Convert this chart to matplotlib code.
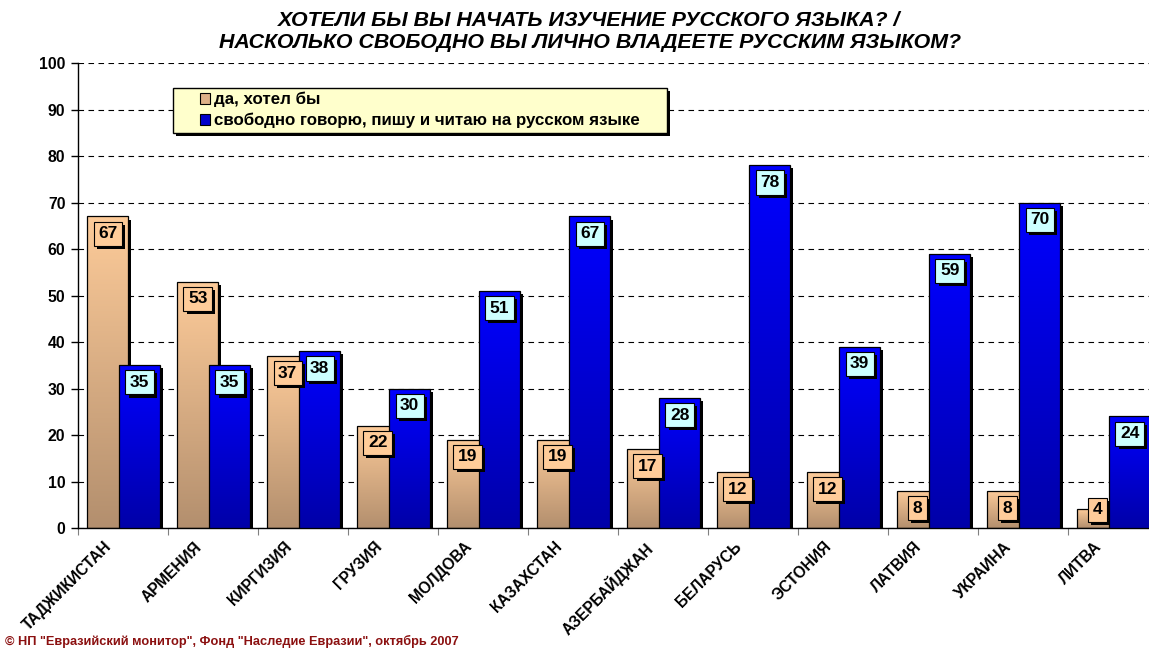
import numpy as np
import matplotlib
matplotlib.use('Agg')
import matplotlib.pyplot as plt
import matplotlib.patheffects as pe
from matplotlib.colors import LinearSegmentedColormap
from matplotlib.patches import Rectangle, Patch
from matplotlib.transforms import ScaledTranslation

plt.rcParams['font.family'] = ['Liberation Sans', 'DejaVu Sans']

# data
countries = ['ТАДЖИКИСТАН', 'АРМЕНИЯ', 'КИРГИЗИЯ', 'ГРУЗИЯ', 'МОЛДОВА', 'КАЗАХСТАН',
             'АЗЕРБАЙДЖАН', 'БЕЛАРУСЬ', 'ЭСТОНИЯ', 'ЛАТВИЯ', 'УКРАИНА', 'ЛИТВА']
want_learn = [67, 53, 37, 22, 19, 19, 17, 12, 12, 8, 8, 4]
fluent = [35, 35, 38, 30, 51, 67, 28, 78, 39, 59, 70, 24]
series_names = ['да, хотел бы', 'свободно говорю, пишу и читаю на русском языке']

title1 = 'ХОТЕЛИ БЫ ВЫ НАЧАТЬ ИЗУЧЕНИЕ РУССКОГО ЯЗЫКА? /'
title2 = 'НАСКОЛЬКО СВОБОДНО ВЫ ЛИЧНО ВЛАДЕЕТЕ РУССКИМ ЯЗЫКОМ?'
footer = '© НП "Евразийский монитор", Фонд "Наследие Евразии", октябрь 2007'

W, H = 1149, 648
fig = plt.figure(figsize=(W / 100, H / 100), dpi=100)
ax = fig.add_axes([78 / W, 120 / H, 1080 / W, 465 / H])

shadow = [pe.SimplePatchShadow(offset=(2.2, -2.2), shadow_rgbFace='black', alpha=1), pe.Normal()]


def gradient_bars(bars, c_top, c_bot, z):
    cmap = LinearSegmentedColormap.from_list('g', [c_bot, c_top])
    grad = np.linspace(0, 1, 128).reshape(-1, 1)
    for b in bars:
        b.set_zorder(z)
        b.set_path_effects(shadow)
        x0, bw, h = b.get_x(), b.get_width(), b.get_height()
        im = ax.imshow(grad, extent=[x0, x0 + bw, 0, h], origin='lower',
                       aspect='auto', cmap=cmap, zorder=z + 0.01)
        im.set_clip_path(b)
        ax.add_patch(Rectangle((x0, 0), bw, h, fill=False, ec='black', lw=0.9, zorder=z + 0.02))


def value_labels(xs, vals, fc):
    for xi, v in zip(xs, vals):
        t = ax.text(xi, max(v - 3.7, 3.9), str(v), ha='center', va='center',
                    fontsize=12.5, fontweight='bold', zorder=6,
                    bbox=dict(boxstyle='square,pad=0.26', fc=fc, ec='black', lw=0.8))
        t.get_bbox_patch().set_path_effects(shadow)


x = np.arange(len(countries))
w = 0.455
tan = ax.bar(x - 0.17, want_learn, w, color='#DDB088')
blue = ax.bar(x + 0.185, fluent, w, color='#0000CC')
gradient_bars(tan, '#FDCB99', '#B38F6E', 2)
gradient_bars(blue, '#0000FF', '#0000A8', 3)
value_labels(x - 0.17, want_learn, '#FFCC99')
value_labels(x + 0.185, fluent, '#CCFFFF')

ax.set_xlim(-0.5, len(countries) - 0.5)
ax.set_ylim(0, 100)
ax.set_yticks(range(0, 101, 10))
ax.yaxis.grid(True, linestyle=(0, (5, 4)), color='black', lw=0.8)
ax.set_axisbelow(True)
for s in ['top', 'right']:
    ax.spines[s].set_visible(False)
ax.spines['left'].set_linewidth(1)
ax.spines['bottom'].set_linewidth(1)
ax.tick_params(axis='y', length=5, width=1, pad=4, labelsize=11.3)
for lab in ax.get_yticklabels():
    lab.set_fontweight('bold')

ax.set_xticks(np.arange(len(countries) + 1) - 0.5)
ax.set_xticklabels([])
ax.tick_params(axis='x', which='major', length=5, color='gray')
ax.set_xticks(x, minor=True)
ax.set_xticklabels(countries, minor=True, rotation=45, ha='right', va='top',
                   rotation_mode='anchor', fontsize=11.2, fontweight='bold')
ax.tick_params(axis='x', which='minor', length=0, pad=8)
for lab in ax.get_xticklabels(minor=True):
    lab.set_transform(lab.get_transform() + ScaledTranslation(-0.19, 0, fig.dpi_scale_trans))

# legend box
frame = Rectangle((95 / 1080, 395 / 465), 494 / 1080, 45 / 465, transform=ax.transAxes,
                  fc='#FFFFCC', ec='black', lw=1, zorder=7)
frame.set_path_effects(shadow)
ax.add_patch(frame)
handles = [Patch(fc='#DDB088', ec='black', lw=0.8), Patch(fc='#0000CC', ec='black', lw=0.8)]
leg = ax.legend(handles, series_names, loc='upper left', bbox_to_anchor=(122 / 1080, 436 / 465),
                frameon=False, borderpad=0, borderaxespad=0, handlelength=0.6, handleheight=0.6,
                handletextpad=0.25, labelspacing=0.33, prop={'weight': 'bold', 'size': 12.2})
leg.set_zorder(8)

tfont = ['Liberation Sans Narrow', 'Liberation Sans']
fig.text(589 / W, 1 - 20 / H, title1, ha='center', va='center', fontsize=15.4,
         fontweight='bold', style='italic', family=tfont)
fig.text(590 / W, 1 - 43 / H, title2, ha='center', va='center', fontsize=15.4,
         fontweight='bold', style='italic', family=tfont)
fig.text(5 / W, 1 - 641 / H, footer, ha='left', va='center', fontsize=9.2,
         fontweight='bold', color='#8B1010')

fig.savefig('out.png', dpi=100)
